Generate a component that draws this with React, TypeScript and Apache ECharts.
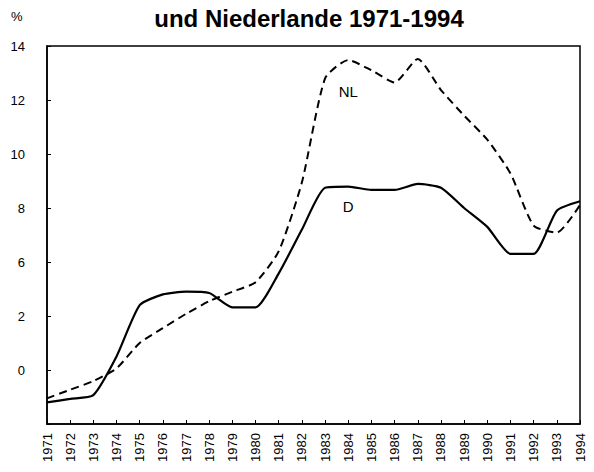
import React, { useEffect, useRef } from "react";
import * as echarts from "echarts";

const years = [
  "1971", "1972", "1973", "1974", "1975", "1976", "1977", "1978", "1979", "1980", "1981", "1982",
  "1983", "1984", "1985", "1986", "1987", "1988", "1989", "1990", "1991", "1992", "1993", "1994",
];

const seriesD = [
  0.8, 0.93, 1.07, 2.5, 4.4, 4.8, 4.9, 4.85, 4.32, 4.32, 5.58, 7.2,
  8.75, 8.79, 8.67, 8.67, 8.89, 8.75, 8.0, 7.3, 6.3, 6.3, 7.9, 8.25,
];

const seriesNL = [
  0.95, 1.27, 1.59, 2.06, 3.0, 3.55, 4.08, 4.55, 4.9, 5.25, 6.4, 8.95,
  12.8, 13.48, 13.1, 12.65, 13.52, 12.37, 11.42, 10.53, 9.28, 7.35, 7.09, 8.11,
];

// tick labels as printed on the original axis (values 0,2,4,...,14)
const yTickLabels = ["", "0", "2", "6", "8", "10", "12", "14"];

const titleText = "und Niederlande 1971-1994";
const unitText = "%";

const labelNL = { name: "NL", year: "1984", value: 12.33 };
const labelD = { name: "D", year: "1984", value: 8.07 };

const FONT = "'Liberation Sans', Arial, Helvetica, sans-serif";

export default function App() {
  const ref = useRef<HTMLDivElement>(null);

  useEffect(() => {
    if (!ref.current) return;
    const chart = echarts.init(ref.current, null, { renderer: "svg" });
    chart.setOption({
      animation: false,
      backgroundColor: "#ffffff",
      textStyle: { fontFamily: FONT },
      title: {
        text: titleText,
        left: 304,
        textAlign: "center",
        top: 1,
        textStyle: { fontFamily: FONT, fontSize: 24, fontWeight: "bold", color: "#000" },
      },
      graphic: [
        {
          type: "text",
          left: 11,
          top: 10,
          style: { text: unitText, font: `13px ${FONT}`, fill: "#000" },
        },
      ],
      grid: {
        left: 47,
        right: 14,
        top: 46,
        bottom: 48,
        show: true,
        borderColor: "#000",
        borderWidth: 1.5,
        containLabel: false,
      },
      xAxis: {
        type: "category",
        data: years,
        boundaryGap: false,
        axisLine: { lineStyle: { color: "#000", width: 1.5 } },
        axisTick: { inside: true, length: 4, interval: 0, lineStyle: { color: "#000", width: 1 } },
        axisLabel: {
          interval: 0,
          rotate: 90,
          margin: 9,
          fontSize: 13,
          fontFamily: FONT,
          color: "#000",
        },
        splitLine: { show: false },
      },
      yAxis: {
        type: "value",
        min: 0,
        max: 14,
        interval: 2,
        axisLine: { show: true, lineStyle: { color: "#000", width: 1.5 } },
        axisTick: { show: true, inside: true, length: 4, lineStyle: { color: "#000", width: 1 } },
        axisLabel: {
          margin: 22,
          fontSize: 13,
          fontFamily: FONT,
          color: "#000",
          formatter: (v: number) => yTickLabels[Math.round(v / 2)] ?? "",
        },
        splitLine: { show: false },
      },
      series: [
        {
          name: "D",
          type: "line",
          data: seriesD,
          smooth: 0.2,
          symbol: "none",
          lineStyle: { color: "#000", width: 2.2, type: "solid" },
          markPoint: {
            symbol: "circle",
            symbolSize: 0,
            label: {
              show: true,
              position: "inside",
              formatter: labelD.name,
              fontSize: 15,
              fontFamily: FONT,
              color: "#000",
            },
            data: [{ coord: [labelD.year, labelD.value] }],
          },
        },
        {
          name: "NL",
          type: "line",
          data: seriesNL,
          smooth: 0.2,
          symbol: "none",
          lineStyle: { color: "#000", width: 2, type: [8, 5] },
          markPoint: {
            symbol: "circle",
            symbolSize: 0,
            label: {
              show: true,
              position: "inside",
              formatter: labelNL.name,
              fontSize: 15,
              fontFamily: FONT,
              color: "#000",
            },
            data: [{ coord: [labelNL.year, labelNL.value] }],
          },
        },
      ],
    });
    return () => chart.dispose();
  }, []);

  return (
    <div
      ref={ref}
      style={{ position: "absolute", left: 0, top: 0, width: 594, height: 472 }}
    />
  );
}
